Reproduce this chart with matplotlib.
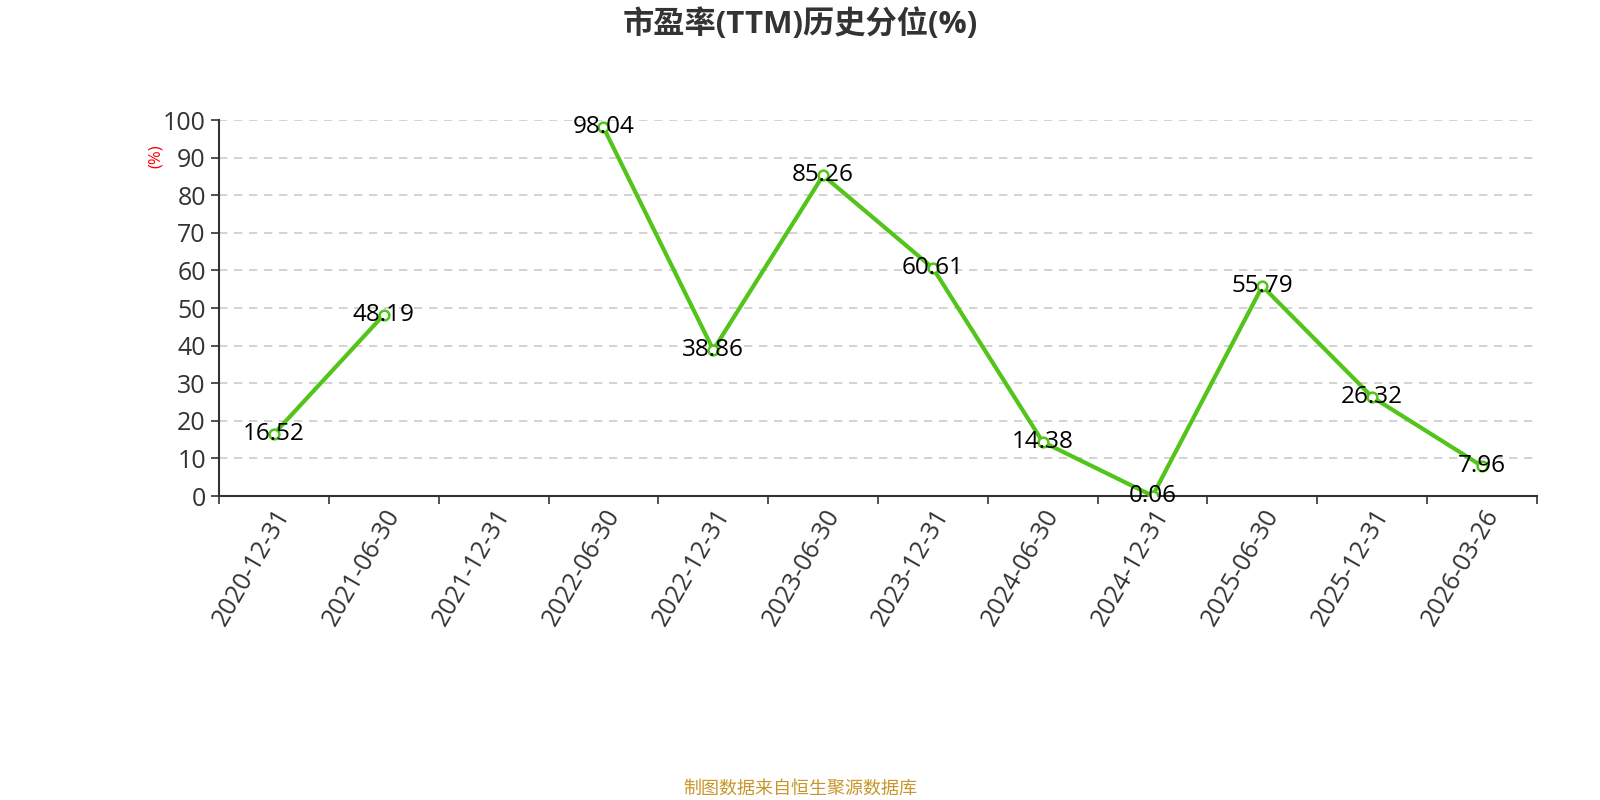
import numpy as np
import matplotlib
matplotlib.use("Agg")
import matplotlib.pyplot as plt

plt.rcParams["font.family"] = ["Open Sans", "Noto Sans CJK SC", "DejaVu Sans"]

dates = ["2020-12-31", "2021-06-30", "2021-12-31", "2022-06-30", "2022-12-31",
         "2023-06-30", "2023-12-31", "2024-06-30", "2024-12-31", "2025-06-30",
         "2025-12-31", "2026-03-26"]
pe_pct = [16.52, 48.19, np.nan, 98.04, 38.86, 85.26, 60.61, 14.38, 0.06,
          55.79, 26.32, 7.96]

green = "#52c41a"
x = np.arange(len(dates))

fig = plt.figure(figsize=(16, 8), dpi=100)
ax = fig.add_axes([0.1369, 0.38, 0.8237, 0.47])

ax.plot(x, pe_pct, color=green, linewidth=3, marker="o", markersize=7,
        markerfacecolor="white", markeredgecolor=green, markeredgewidth=1.8,
        zorder=3)
for xi, v in zip(x, pe_pct):
    if np.isnan(v):
        continue
    ax.text(xi, v, f"{v:.2f}", ha="center", va="center", fontsize=17.5,
            color="black", zorder=4)

ax.set_xlim(-0.5, len(dates) - 0.5)
ax.set_ylim(0, 100)
ax.set_yticks(range(0, 101, 10))
ax.yaxis.grid(True, linestyle=(0, (5, 4)), color="#cccccc", linewidth=1.2)
ax.set_axisbelow(True)

ax.set_xticks(np.arange(-0.5, len(dates), 1.0))
ax.set_xticklabels([])
ax.set_xticks(x, minor=True)
ax.set_xticklabels(dates, minor=True, rotation=60, ha="right",
                   rotation_mode="anchor", fontsize=18, color="#333333")
ax.tick_params(axis="x", which="major", length=6, width=1.2, color="#333333")
ax.tick_params(axis="x", which="minor", length=0, pad=6)
ax.tick_params(axis="y", length=6, width=1.2, color="#333333",
               labelsize=18, labelcolor="#333333")

for s in ["top", "right"]:
    ax.spines[s].set_visible(False)
for s in ["left", "bottom"]:
    ax.spines[s].set_color("#333333")
    ax.spines[s].set_linewidth(1.5)

fig.text(0.0975, 0.805, "(%)", rotation=90, color="red", fontsize=12,
         ha="center", va="center")
fig.text(0.5, 0.97, "市盈率(TTM)历史分位(%)", ha="center", va="center",
         fontsize=22.5, fontweight="bold", color="#333333")
fig.text(0.5, 0.014, "制图数据来自恒生聚源数据库", ha="center", va="center",
         fontsize=13, color="#c8962a")

fig.savefig("out.png", dpi=100)
